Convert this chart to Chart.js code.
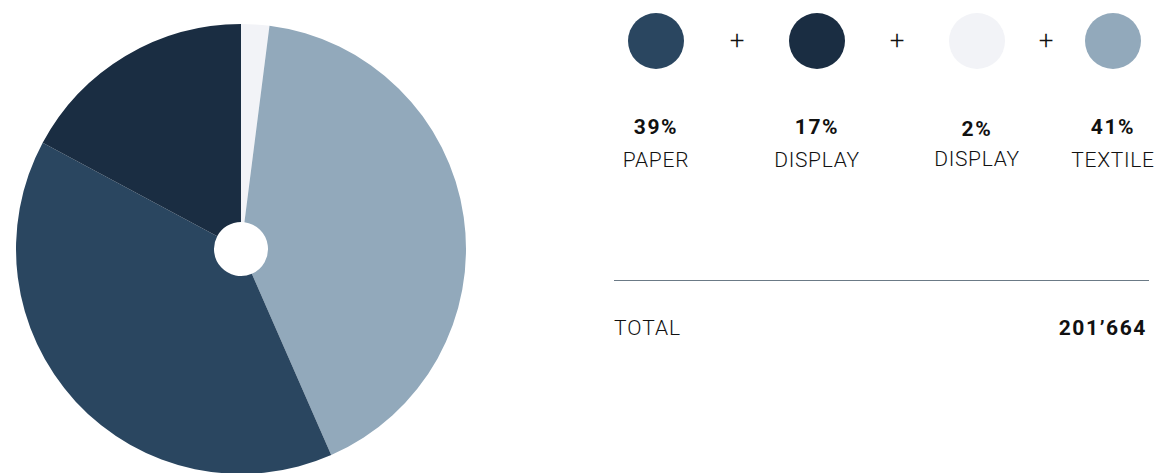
<!DOCTYPE html>
<html>
<head>
<meta charset="utf-8">
<script src="https://cdn.jsdelivr.net/npm/chart.js@4"></script>
<style>
    body { margin: 0; background: #fff; font-family: Roboto, "Noto Sans", sans-serif; color: #111; }
    #wrap { position: relative; width: 1156px; height: 473px; overflow: hidden; }
    #pie-box { position: absolute; left: 16px; top: 24px; width: 450px; height: 450px; }
    .dot { position: absolute; width: 56px; height: 56px; border-radius: 50%; }
    .plus { position: absolute; font-size: 26px; font-weight: 300; transform: translate(-50%, -50%); }
    .pct { position: absolute; font-size: 21px; font-weight: 700; letter-spacing: 1.6px; transform: translateX(-50%); white-space: nowrap; }
    .name { position: absolute; font-size: 21px; font-weight: 300; letter-spacing: 0.7px; transform: translateX(-50%); white-space: nowrap; }
    #rule { position: absolute; left: 614px; top: 280px; width: 535px; height: 1px; background: #6b7a86; }
    #total-label { position: absolute; left: 614px; top: 316px; font-size: 21px; font-weight: 300; letter-spacing: 1px; }
    #total-value { position: absolute; right: 9px; top: 316px; font-size: 21px; font-weight: 700; letter-spacing: 1.6px; }
</style>
</head>
<body>
<div id="wrap">
    <div id="pie-box"><canvas id="pie"></canvas></div>
    <div id="rule"></div>
    <div id="total-label">TOTAL</div>
    <div id="total-value"></div>
</div>
<script>
// legend order
const labels = ['PAPER', 'DISPLAY', 'DISPLAY', 'TEXTILE'];
const shares = [39, 17, 2, 41];
const colors = ['#2A4660', '#1A2D42', '#F2F3F7', '#92A9BB'];
const totalText = '201\u2019664';
// clockwise order of slices in the pie, starting at 12 o'clock
const pieOrder = [2, 3, 0, 1];

const legendX = [656, 817, 977, 1113];
const plusX = [737, 897, 1046];

const wrap = document.getElementById('wrap');
legendX.forEach((x, i) => {
    const dot = document.createElement('div');
    dot.className = 'dot';
    dot.style.left = (x - 28) + 'px';
    dot.style.top = '13px';
    dot.style.background = colors[i];
    wrap.appendChild(dot);

    const pct = document.createElement('div');
    pct.className = 'pct';
    pct.style.left = x + 'px';
    pct.style.top = (i === 2 ? 117 : 115) + 'px';
    pct.textContent = shares[i] + '%';
    wrap.appendChild(pct);

    const name = document.createElement('div');
    name.className = 'name';
    name.style.left = x + 'px';
    name.style.top = (i === 2 ? 147 : 148) + 'px';
    name.textContent = labels[i];
    wrap.appendChild(name);
});
plusX.forEach(x => {
    const p = document.createElement('div');
    p.className = 'plus';
    p.style.left = x + 'px';
    p.style.top = '40px';
    p.textContent = '+';
    wrap.appendChild(p);
});
document.getElementById('total-value').textContent = totalText;

new Chart(document.getElementById('pie'), {
    type: 'doughnut',
    data: {
        labels: pieOrder.map(i => labels[i]),
        datasets: [{
            data: pieOrder.map(i => shares[i]),
            backgroundColor: pieOrder.map(i => colors[i]),
            borderWidth: 0
        }]
    },
    options: {
        responsive: true,
        maintainAspectRatio: false,
        animation: false,
        cutout: '12%',
        layout: { padding: 0 },
        plugins: {
            legend: { display: false },
            tooltip: { enabled: false }
        }
    }
});
</script>
</body>
</html>
